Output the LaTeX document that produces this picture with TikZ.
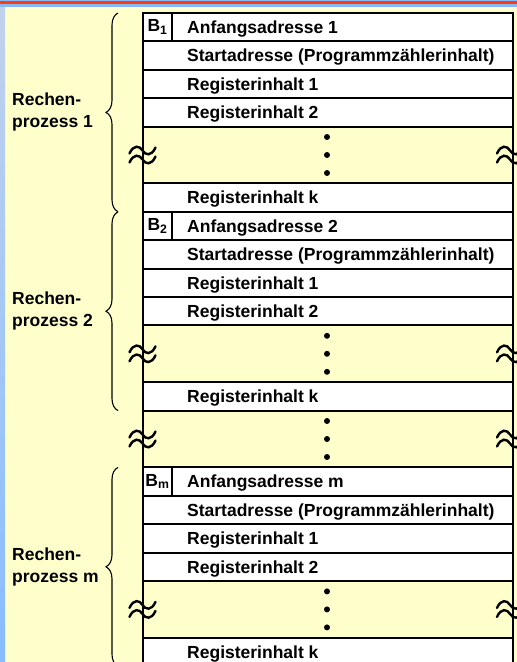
\documentclass[tikz,border=0pt]{standalone}
\usepackage{fontspec}
\setmainfont{Liberation Sans}
\usetikzlibrary{decorations.pathreplacing}

\definecolor{paper}{HTML}{FFFFCC}
\definecolor{topred}{HTML}{FF3A12}
\definecolor{topblue}{HTML}{88B8F2}
\definecolor{edgetop}{HTML}{C2D2EC}
\definecolor{edgemid}{HTML}{ECDFF0}
\definecolor{edgebot}{HTML}{88BCFF}

\newcommand{\cellfont}{\fontsize{17.5}{22}\selectfont\bfseries}

\tikzset{
  rowbox/.style={draw=black, line width=2pt, fill=white, anchor=north west,
    minimum width=370pt, minimum height=28.4pt, inner sep=0pt, outer sep=0pt},
  gapbox/.style={rowbox, fill=paper, minimum height=56.8pt},
  bbox/.style={draw=black, line width=2pt, fill=white, anchor=north west,
    minimum width=29pt, minimum height=28.4pt, inner sep=0pt, outer sep=0pt,
    font=\cellfont},
  rowtext/.style={anchor=base west, inner sep=0pt, font=\cellfont},
  proclabel/.style={anchor=west, align=left, inner sep=0pt, font=\cellfont},
  memdot/.style={circle, fill=black, minimum size=6pt, inner sep=0pt},
  procbrace/.style={draw=black, line width=1.1pt,
    decorate, decoration={brace, amplitude=12pt, aspect=0.5}},
  % break symbol: two stacked tildes drawn across a table edge
  breakmark/.pic={
    \foreach \o in {-4.5,4.5}
      \draw[line width=2.4pt, line cap=round]
        (-13,\o+3) .. controls (-9,\o-6) and (-3,\o-5) .. (0,\o)
                   .. controls (3,\o+5) and (9,\o+6) .. (13,\o-3);
  },
}

\begin{document}
\begin{tikzpicture}[x=1pt, y=-1pt]
  \useasboundingbox (0,0) rectangle (517,662);
  \clip (0,0) rectangle (517,662);

  % page background with coloured edges
  \fill[paper] (0,0) rectangle (517,662);
  \shade[top color=edgetop, middle color=edgemid, bottom color=edgebot]
    (0,0) rectangle (5,662);
  \fill[topblue] (0,0) rectangle (517,7);
  \fill[topred] (0,1) rectangle (517,3.6);

  % omitted region between process 2 and process m
  \node[gapbox] (gap) at (143,410.6) {};
  \node[memdot] (gapd1) at (327,421) {};
  \node[memdot] (gapd2) at (327,439) {};
  \node[memdot] (gapd3) at (327,457) {};

  % one block of registers per process
  \foreach \g/\yo in {1/13, 2/211.8, m/467.4} {
    \node[rowbox] (a\g) at (143,\yo) {};
    \node[bbox]   (b\g) at (143,\yo) {B\textsubscript{\g}};
    \node[rowtext] (ta\g) at (187,\yo+20.4) {Anfangsadresse \g};

    \node[rowbox] (s\g) at (143,\yo+28.4) {};
    \node[rowtext] (ts\g) at (187,\yo+48.8) {Startadresse (Programmzählerinhalt)};

    \node[rowbox] (r1\g) at (143,\yo+56.8) {};
    \node[rowtext] (tr1\g) at (187,\yo+77.2) {Registerinhalt 1};

    \node[rowbox] (r2\g) at (143,\yo+85.2) {};
    \node[rowtext] (tr2\g) at (187,\yo+105.6) {Registerinhalt 2};

    \node[gapbox] (d\g) at (143,\yo+113.6) {};
    \node[memdot] (d1\g) at (327,\yo+124) {};
    \node[memdot] (d2\g) at (327,\yo+142) {};
    \node[memdot] (d3\g) at (327,\yo+160) {};

    \node[rowbox] (k\g) at (143,\yo+170.4) {};
    \node[rowtext] (tk\g) at (187,\yo+190.8) {Registerinhalt k};

    % break marks on both edges of the omitted rows
    \pic at (142.5,\yo+142) {breakmark};
    \pic at (510,\yo+142) {breakmark};

    % brace and label of the process
    \draw[procbrace] ([xshift=-25pt]k\g.south west) -- ([xshift=-25pt]a\g.north west);
    \node[proclabel] (lab\g) at (12,\yo+99.4) {Rechen-\\prozess \g};
  }

  \pic at (142.5,439) {breakmark};
  \pic at (510,439) {breakmark};
\end{tikzpicture}
\end{document}
